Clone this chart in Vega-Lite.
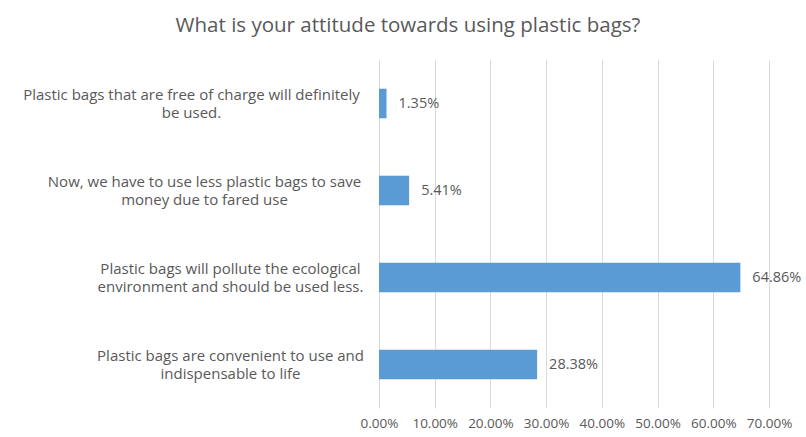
{
  "$schema": "https://vega.github.io/schema/vega-lite/v6.json",
  "autosize": "none",
  "width": 390,
  "height": 348,
  "padding": {"left": 379, "top": 60, "right": 37, "bottom": 29},
  "background": "white",
  "title": {
    "text": "What is your attitude towards using plastic bags?",
    "font": "Open Sans",
    "fontSize": 20.5,
    "fontWeight": "normal",
    "color": "#595959",
    "anchor": "middle",
    "frame": "group",
    "dx": -166,
    "offset": 24
  },
  "config": {
    "view": {"stroke": null},
    "font": "Open Sans"
  },
  "data": {
    "values": [
      {"attitude": "Plastic bags that are free of charge will definitely\nbe used.", "share": 0.0135},
      {"attitude": "Now, we have to use less plastic bags to save\nmoney due to fared use", "share": 0.0541},
      {"attitude": "Plastic bags will pollute the ecological\nenvironment and should be used less.", "share": 0.6486},
      {"attitude": "Plastic bags are convenient to use and\nindispensable to life", "share": 0.2838}
    ]
  },
  "encoding": {
    "y": {
      "field": "attitude",
      "type": "nominal",
      "sort": null,
      "title": null,
      "scale": {"paddingInner": 0.66, "paddingOuter": 0.33},
      "axis": {
        "domain": false,
        "ticks": false,
        "labelExpr": "split(datum.label, '\\n')",
        "labelAlign": "center",
        "labelBaseline": "middle",
        "labelOffset": -9,
        "labelPadding": {
          "condition": [
            {"test": "test(/free of charge/, datum.value)", "value": 188},
            {"test": "test(/Now, we/, datum.value)", "value": 175}
          ],
          "value": 149
        },
        "labelFont": "Open Sans",
        "labelFontSize": 15,
        "labelColor": "#595959",
        "labelLineHeight": 18,
        "labelLimit": 400
      }
    },
    "x": {
      "field": "share",
      "type": "quantitative",
      "title": null,
      "scale": {"domain": [0, 0.7]},
      "axis": {
        "format": ".2%",
        "values": [0, 0.1, 0.2, 0.3, 0.4, 0.5, 0.6, 0.7],
        "domain": false,
        "ticks": false,
        "grid": true,
        "gridColor": "#d9d9d9",
        "labelOverlap": false,
        "labelBound": false,
        "labelFlush": false,
        "labelFont": "Open Sans",
        "labelFontSize": 13.5,
        "labelColor": "#595959",
        "labelPadding": 8
      }
    }
  },
  "layer": [
    {"mark": {"type": "bar", "color": "#5b9bd5"}},
    {
      "mark": {"type": "text", "align": "left", "baseline": "middle", "dx": 12, "font": "Open Sans", "fontSize": 14.5, "color": "#595959"},
      "encoding": {"text": {"field": "share", "type": "quantitative", "format": ".2%"}}
    }
  ]
}
